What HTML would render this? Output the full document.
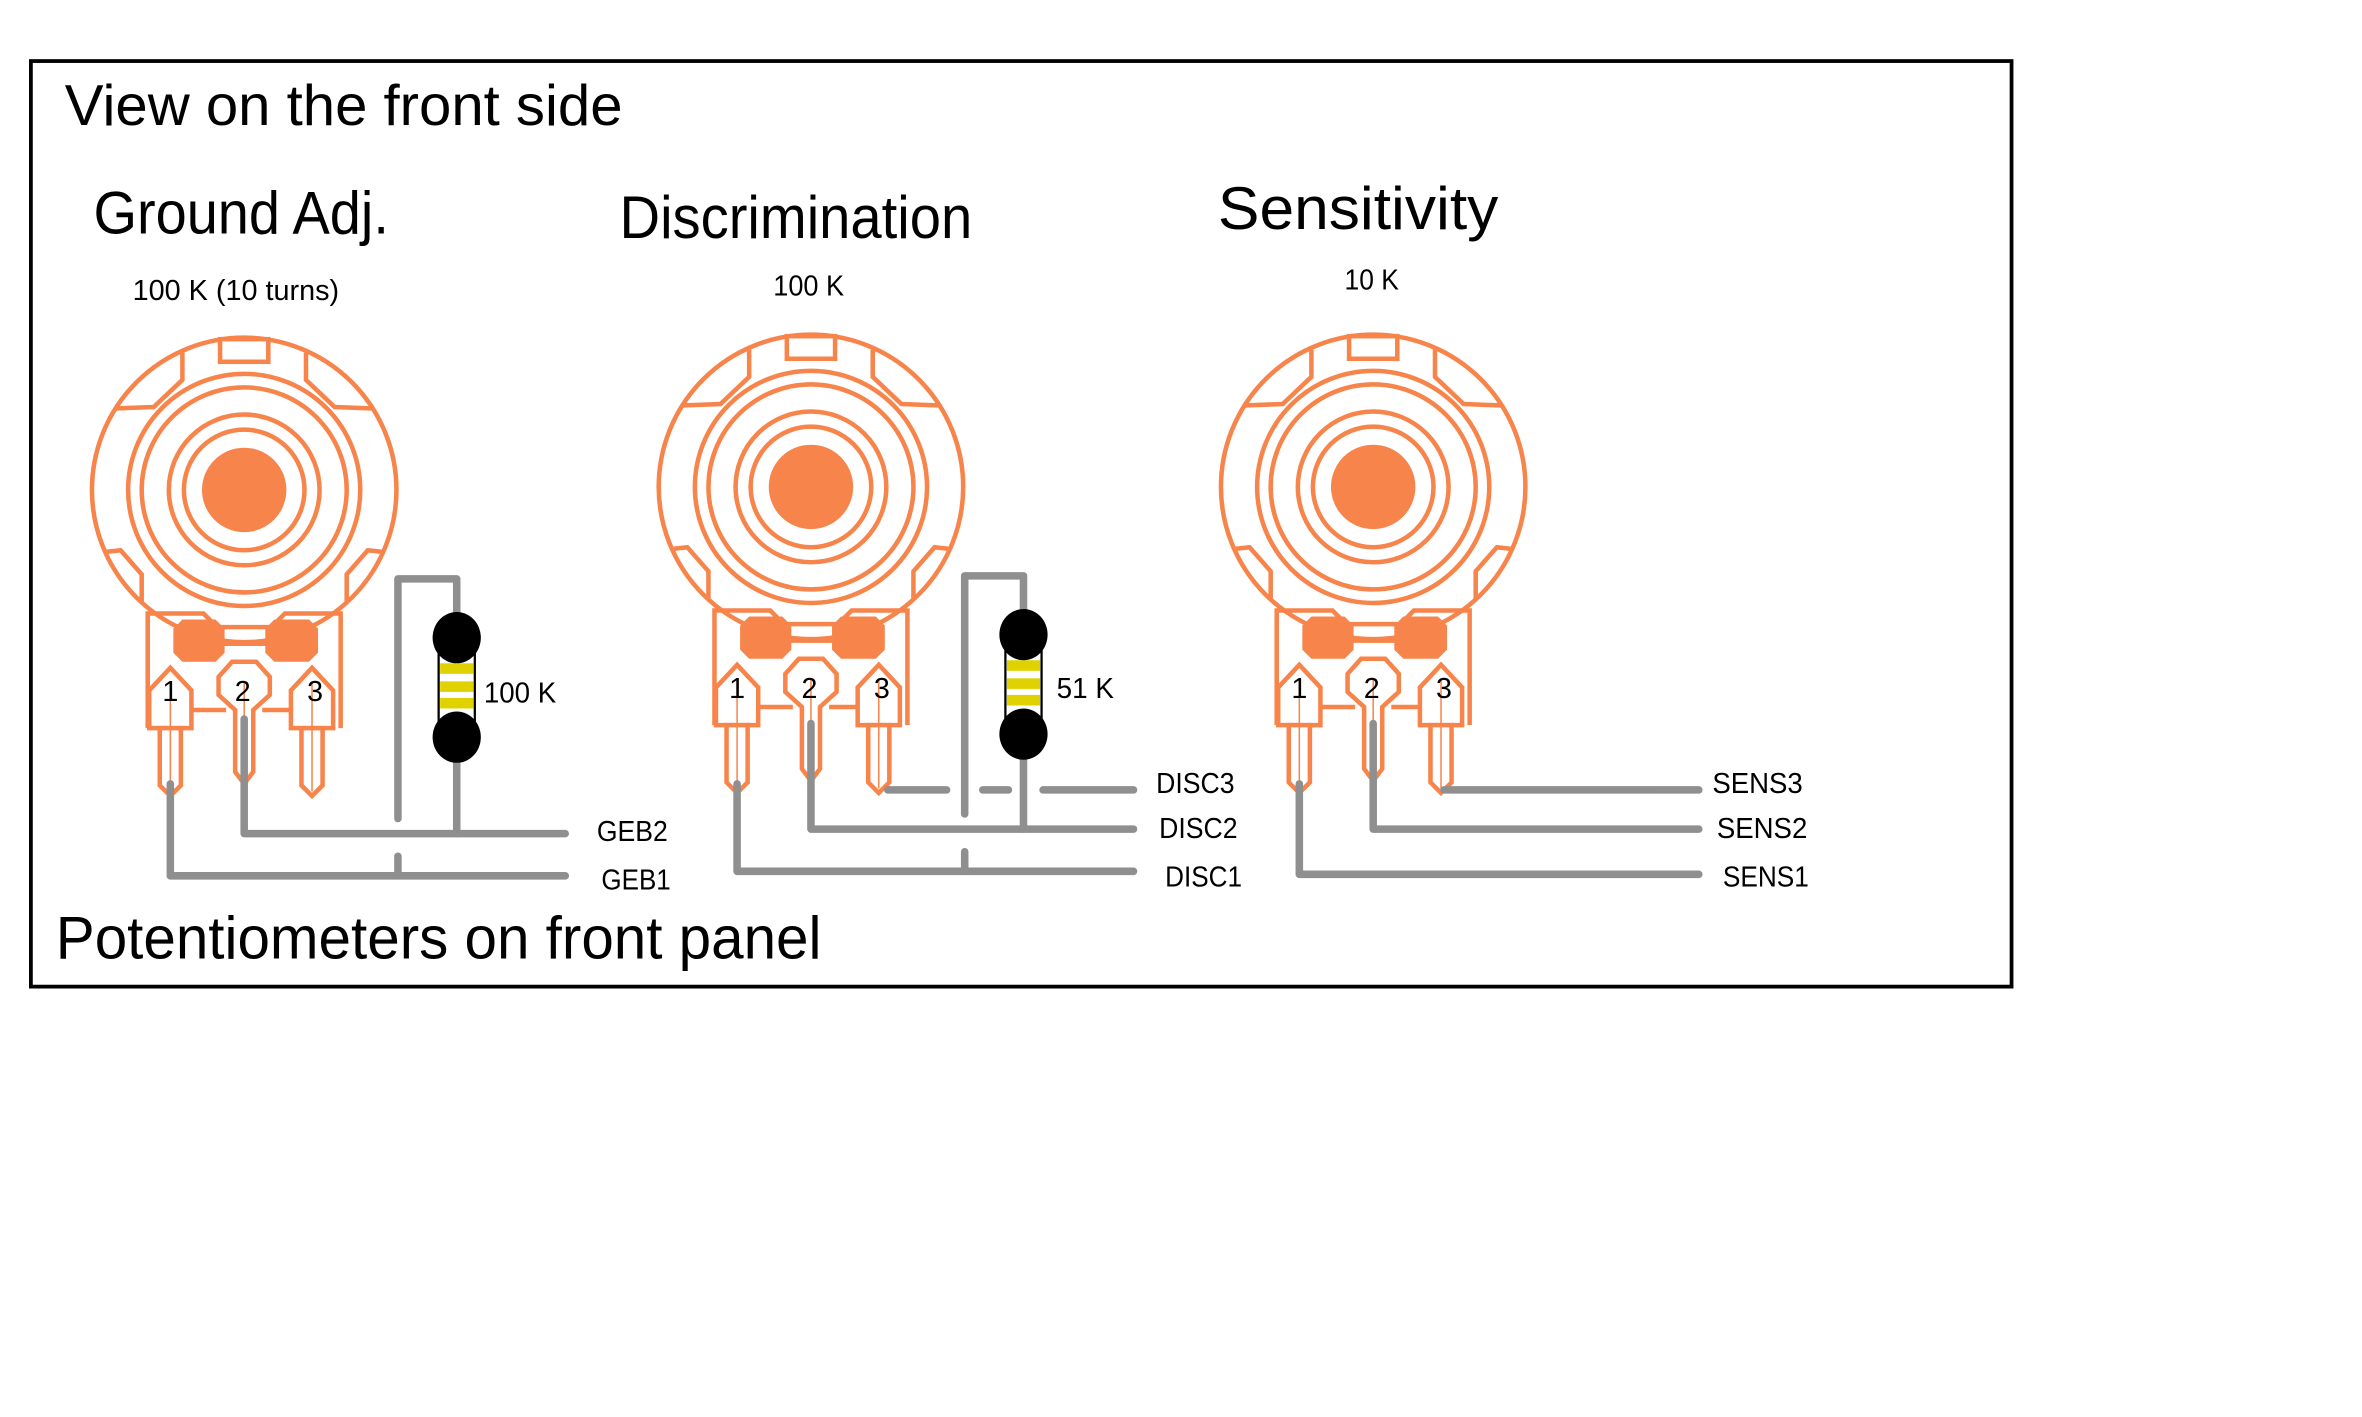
<!DOCTYPE html>
<html><head><meta charset="utf-8"><style>
html,body{margin:0;padding:0;background:#fff;}
svg{display:block;}
text{font-family:"Liberation Sans Narrow","Liberation Sans",sans-serif;fill:#000;}
</style></head><body>
<svg width="2362" height="1417" viewBox="0 0 1567 940" preserveAspectRatio="none" xmlns="http://www.w3.org/2000/svg">
<defs>
<g id="pot" fill="none" stroke="#f7844a" stroke-width="3" stroke-linejoin="miter">
  <circle r="101" fill="#fff"/>
  <circle r="77"/><circle r="68"/>
  <circle r="50"/><circle r="40"/>
  <circle r="28" fill="#f7844a" stroke="none"/>
  <rect x="-16" y="-100" width="32" height="15" fill="#fff"/>
  <polyline points="-41,-91 -41,-73 -60,-55 -86,-54"/>
  <polyline points="41,-91 41,-73 60,-55 86,-54"/>
  <polyline points="-91,41 -82,40 -68,56 -68,75"/>
  <polyline points="91,41 82,40 68,56 68,75"/>
  <path d="M-64,82 H-27 L-18,91 H18 L27,82 H64" fill="#fff" stroke="none"/>
  <polyline points="-64,158 -64,82 -27,82 -18,91 18,91 27,82 64,82 64,158"/>
  <line x1="-14" y1="102" x2="16" y2="102"/>
  <polygon points="-41,86 -19,86 -13,92 -13,108 -19,114 -41,114 -47,108 -47,92" fill="#f7844a" stroke="none"/>
  <polygon points="20,86 43,86 49,92 49,108 43,114 20,114 14,108 14,92" fill="#f7844a" stroke="none"/>
  <line x1="-35" y1="146" x2="-12" y2="146"/>
  <line x1="12" y1="146" x2="30" y2="146"/>
  <polygon points="-63,158 -63,133 -49,118 -35,133 -35,158" fill="#fff"/>
  <polygon points="-56,158 -42,158 -42,196 -49,203 -56,196" fill="#fff"/>
  <line x1="-49" y1="128" x2="-49" y2="200" stroke-width="1"/>
  <polygon points="-8,114 8,114 17,124 17,136 6,146 6,187 0,195 -6,187 -6,146 -17,136 -17,124" fill="#fff"/>
  <line x1="0" y1="128" x2="0" y2="198" stroke-width="1"/>
  <polygon points="31,158 31,133 45,118 59,133 59,158" fill="#fff"/>
  <polygon points="38,158 52,158 52,196 45,203 38,196" fill="#fff"/>
  <line x1="45" y1="128" x2="45" y2="200" stroke-width="1"/>
</g>
<g id="res">
  <rect x="-12" y="7" width="24" height="52" fill="#fff" stroke="#000" stroke-width="1.5"/>
  <rect x="-11" y="17" width="22" height="7" fill="#e0d200"/>
  <rect x="-11" y="29" width="22" height="7" fill="#e0d200"/>
  <rect x="-11" y="40" width="22" height="7" fill="#e0d200"/>
  <ellipse cx="0" cy="0" rx="16" ry="17" fill="#000"/>
  <ellipse cx="0" cy="66" rx="16" ry="17" fill="#000"/>
</g>
</defs>

<rect x="20.5" y="40.5" width="1314" height="614" fill="#fff" stroke="#000" stroke-width="2.5"/>

<text x="43" y="83" font-size="38" textLength="370" lengthAdjust="spacingAndGlyphs">View on the front side</text>
<text x="62" y="155" font-size="40" textLength="196" lengthAdjust="spacingAndGlyphs">Ground Adj.</text>
<text x="411" y="158" font-size="40" textLength="234" lengthAdjust="spacingAndGlyphs">Discrimination</text>
<text x="808" y="152" font-size="40" textLength="186" lengthAdjust="spacingAndGlyphs">Sensitivity</text>
<text x="88" y="199" font-size="19" textLength="137" lengthAdjust="spacingAndGlyphs">100 K (10 turns)</text>
<text x="513" y="196" font-size="19" textLength="47" lengthAdjust="spacingAndGlyphs">100 K</text>
<text x="892" y="192" font-size="19" textLength="36" lengthAdjust="spacingAndGlyphs">10 K</text>
<text x="37" y="636" font-size="40" textLength="508" lengthAdjust="spacingAndGlyphs">Potentiometers on front panel</text>

<use href="#pot" transform="translate(162,325)"/>
<use href="#pot" transform="translate(538,323)"/>
<use href="#pot" transform="translate(911,323)"/>

<g font-size="19" text-anchor="middle">
<text x="113" y="465">1</text><text x="161" y="465">2</text><text x="209" y="465">3</text>
<text x="489" y="463">1</text><text x="537" y="463">2</text><text x="585" y="463">3</text>
<text x="862" y="463">1</text><text x="910" y="463">2</text><text x="958" y="463">3</text>
</g>

<g fill="none" stroke="#8f8f8f" stroke-width="5" stroke-linecap="round" stroke-linejoin="round">
  <path d="M113,520 V581 H375"/>
  <path d="M162,477 V553 H375"/>
  <path d="M264,543 V384 H303 V553"/>
  <path d="M264,568 V581"/>
  <path d="M489,520 V578 H752"/>
  <path d="M538,480 V550 H752"/>
  <path d="M589,524 H628 M652,524 H669 M692,524 H752"/>
  <path d="M640,540 V382 H679 V550"/>
  <path d="M640,565 V578"/>
  <path d="M862,520 V580 H1127"/>
  <path d="M911,480 V550 H1127"/>
  <path d="M958,524 H1127"/>
</g>

<use href="#res" transform="translate(303,423)"/>
<use href="#res" transform="translate(679,421)"/>

<g font-size="19">
<text x="321" y="466" textLength="48" lengthAdjust="spacingAndGlyphs">100 K</text>
<text x="701" y="463" textLength="38" lengthAdjust="spacingAndGlyphs">51 K</text>
<text x="396" y="558" textLength="47" lengthAdjust="spacingAndGlyphs">GEB2</text>
<text x="399" y="590" textLength="46" lengthAdjust="spacingAndGlyphs">GEB1</text>
<text x="767" y="526" textLength="52" lengthAdjust="spacingAndGlyphs">DISC3</text>
<text x="769" y="556" textLength="52" lengthAdjust="spacingAndGlyphs">DISC2</text>
<text x="773" y="588" textLength="51" lengthAdjust="spacingAndGlyphs">DISC1</text>
<text x="1136" y="526" textLength="60" lengthAdjust="spacingAndGlyphs">SENS3</text>
<text x="1139" y="556" textLength="60" lengthAdjust="spacingAndGlyphs">SENS2</text>
<text x="1143" y="588" textLength="57" lengthAdjust="spacingAndGlyphs">SENS1</text>
</g>
</svg>
</body></html>
